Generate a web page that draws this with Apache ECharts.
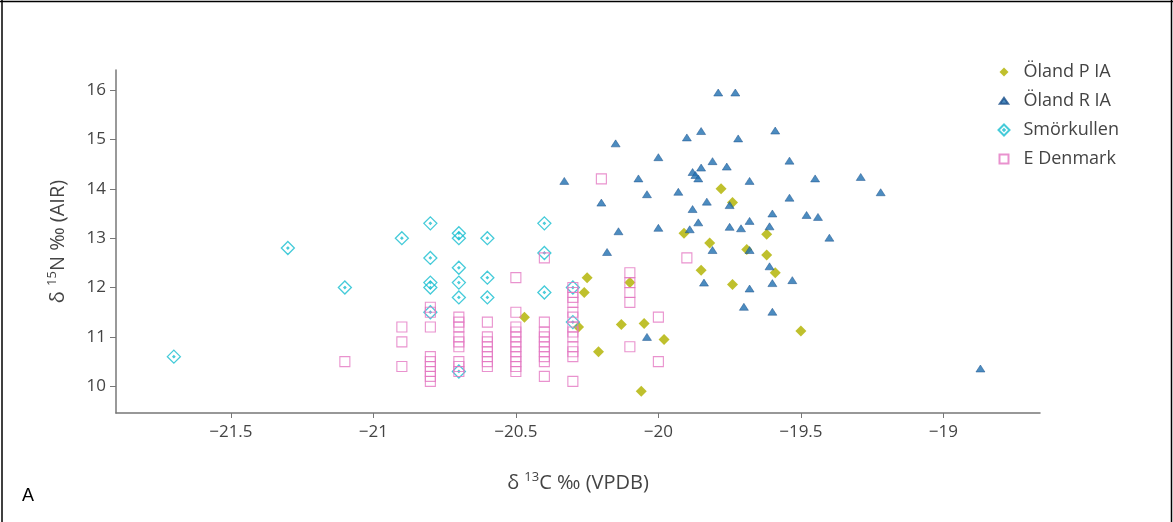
<!DOCTYPE html>
<html>
<head>
<meta charset="utf-8">
<script src="https://cdn.jsdelivr.net/npm/echarts@6/dist/echarts.min.js"></script>
<style>html,body{margin:0;padding:0;background:#fff;}#c{width:1173px;height:522px;}</style>
</head>
<body>
<div id="c"></div>
<script>
const seriesNames = ['Öland P IA', 'Öland R IA', 'Smörkullen', 'E Denmark'];
const xTicks = [-21.5, -21, -20.5, -20, -19.5, -19];
const yTicks = [10, 11, 12, 13, 14, 15, 16];

const olandP = [[-20.47,11.4],[-20.25,12.2],[-20.26,11.9],[-20.28,11.2],[-20.21,10.7],[-20.13,11.25],[-20.05,11.27],[-19.98,10.95],[-20.06,9.9],[-20.1,12.1],[-19.91,13.1],[-19.78,14.0],[-19.74,13.72],[-19.82,12.9],[-19.85,12.35],[-19.74,12.06],[-19.69,12.77],[-19.62,13.08],[-19.62,12.66],[-19.59,12.3],[-19.5,11.12]];

const olandR = [[-19.79,15.95],[-19.73,15.95],[-19.85,15.17],[-19.9,15.04],[-19.59,15.18],[-19.72,15.02],[-20.15,14.92],[-20.0,14.64],[-19.54,14.57],[-19.81,14.56],[-19.76,14.45],[-19.85,14.43],[-19.88,14.34],[-19.87,14.28],[-19.86,14.21],[-20.33,14.16],[-20.07,14.21],[-19.68,14.16],[-19.45,14.21],[-19.29,14.24],[-19.22,13.93],[-19.93,13.94],[-20.04,13.89],[-20.2,13.72],[-19.83,13.74],[-19.75,13.67],[-19.54,13.82],[-19.88,13.59],[-19.6,13.5],[-19.48,13.47],[-19.44,13.43],[-19.86,13.32],[-19.68,13.35],[-19.89,13.18],[-20.14,13.14],[-20.0,13.21],[-19.75,13.23],[-19.71,13.2],[-19.61,13.24],[-19.4,13.01],[-20.18,12.72],[-19.81,12.76],[-19.68,12.76],[-19.61,12.43],[-19.84,12.1],[-19.68,11.98],[-19.6,12.09],[-19.53,12.15],[-19.7,11.61],[-19.6,11.51],[-20.04,11.0],[-18.87,10.36]];

const smorkullen = [[-21.7,10.6],[-21.3,12.8],[-21.1,12.0],[-20.9,13.0],[-20.8,13.3],[-20.8,12.6],[-20.8,12.1],[-20.8,12.0],[-20.8,11.5],[-20.7,13.1],[-20.7,13.0],[-20.7,12.4],[-20.7,12.1],[-20.7,11.8],[-20.7,10.3],[-20.6,13.0],[-20.6,12.2],[-20.6,11.8],[-20.4,13.3],[-20.4,12.7],[-20.4,11.9],[-20.3,12.0],[-20.3,11.3]];

const eDenmark = [[-21.1,10.5],
[-20.9,11.2],[-20.9,10.9],[-20.9,10.4],
[-20.8,11.6],[-20.8,11.5],[-20.8,11.2],[-20.8,10.6],[-20.8,10.5],[-20.8,10.4],[-20.8,10.3],[-20.8,10.2],[-20.8,10.1],
[-20.7,11.4],[-20.7,11.3],[-20.7,11.2],[-20.7,11.0],[-20.7,10.9],[-20.7,10.8],[-20.7,10.5],[-20.7,10.4],[-20.7,10.3],
[-20.6,11.3],[-20.6,11.0],[-20.6,10.9],[-20.6,10.8],[-20.6,10.7],[-20.6,10.6],[-20.6,10.5],[-20.6,10.4],
[-20.5,12.2],[-20.5,11.5],[-20.5,11.2],[-20.5,11.1],[-20.5,11.0],[-20.5,10.9],[-20.5,10.8],[-20.5,10.7],[-20.5,10.6],[-20.5,10.5],[-20.5,10.4],[-20.5,10.3],
[-20.4,12.6],[-20.4,11.3],[-20.4,11.1],[-20.4,11.0],[-20.4,10.9],[-20.4,10.8],[-20.4,10.7],[-20.4,10.6],[-20.4,10.5],[-20.4,10.2],
[-20.3,12.0],[-20.3,11.9],[-20.3,11.8],[-20.3,11.7],[-20.3,11.5],[-20.3,11.4],[-20.3,11.2],[-20.3,11.1],[-20.3,11.0],[-20.3,10.8],[-20.3,10.7],[-20.3,10.6],[-20.3,10.1],
[-20.2,14.2],[-20.1,12.3],[-20.1,12.1],[-20.1,11.9],[-20.1,11.7],[-20.1,10.8],[-20.0,11.4],[-20.0,10.5],[-19.9,12.6]];

const FONT = 'Open Sans';
const TXT = '#444';
const minus = v => String(v).replace('-', '\u2212');

const titleRich = {
  n: {fontFamily: FONT, fontSize: 20, color: TXT, lineHeight: 24},
  s: {fontFamily: FONT, fontSize: 13, color: TXT, lineHeight: 15, verticalAlign: 'top'}
};

const diamondOpenDot = 'path://M0,-6L6,0L0,6L-6,0ZM0,-0.9L0.9,0L0,0.9L-0.9,0Z';

const chart = echarts.init(document.getElementById('c'), null, {renderer: 'canvas'});
chart.setOption({
  animation: false,
  backgroundColor: '#fff',
  textStyle: {fontFamily: FONT},
  grid: {left: 116, right: 133, top: 70, bottom: 109, containLabel: false},
  legend: {
    orient: 'vertical', left: 997.5, top: 63, padding: 0,
    itemWidth: 11, itemHeight: 11, itemGap: 11,
    textStyle: {fontFamily: FONT, fontSize: 18, color: TXT, padding: [0, 0, 0, 9]},
    data: [
      {name: seriesNames[0], icon: 'path://M-5.5,-5.5M5.5,5.5M0,-4.5L4.5,0L0,4.5L-4.5,0Z'},
      {name: seriesNames[1], icon: 'path://M-5.5,-5.5M5.5,5.5M0,-3.2L4.2,2.8L-4.2,2.8Z'},
      {name: seriesNames[2], icon: diamondOpenDot},
      {name: seriesNames[3], icon: 'path://M-5.5,-5.5M5.5,5.5M-4.5,-4.5L4.5,-4.5L4.5,4.5L-4.5,4.5Z'}
    ]
  },
  xAxis: {
    type: 'value', min: -21.903, max: -18.661,
    name: '{n|δ }{s|13}{n|C ‰ (VPDB)}', nameLocation: 'middle', nameGap: 58,
    nameTextStyle: {rich: titleRich},
    splitLine: {show: false},
    axisLine: {show: true, onZero: false, lineStyle: {color: '#777', width: 1.5}},
    axisTick: {show: true, length: 5, customValues: xTicks, lineStyle: {color: '#777'}},
    axisLabel: {customValues: xTicks, formatter: minus, fontFamily: FONT, fontSize: 17, color: TXT, margin: 11}
  },
  yAxis: {
    type: 'value', min: 9.459, max: 16.406,
    name: '{n|δ }{s|15}{n|N ‰ (AIR)}', nameLocation: 'middle', nameGap: 46,
    nameTextStyle: {rich: titleRich},
    splitLine: {show: false},
    axisLine: {show: true, onZero: false, lineStyle: {color: '#777', width: 1.5}},
    axisTick: {show: true, length: 6, customValues: yTicks, lineStyle: {color: '#777'}},
    axisLabel: {customValues: yTicks, formatter: minus, fontFamily: FONT, fontSize: 17, color: TXT, margin: 10}
  },
  series: [
    {name: seriesNames[0], type: 'scatter', data: olandP, symbol: 'diamond', symbolSize: 11,
     itemStyle: {color: '#bcbd22', opacity: 0.95}},
    {name: seriesNames[1], type: 'scatter', data: olandR, symbol: 'triangle', symbolSize: [9, 7],
     itemStyle: {color: '#1f6fb0', borderColor: '#1a4f8a', borderWidth: 0.6}},
    {name: seriesNames[2], type: 'scatter', data: smorkullen,
     symbol: diamondOpenDot, symbolSize: 13,
     itemStyle: {color: 'rgba(0,0,0,0)', borderColor: '#17becf', borderWidth: 1.3}},
    {name: seriesNames[3], type: 'scatter', data: eDenmark, symbol: 'rect', symbolSize: 10,
     itemStyle: {color: 'rgba(0,0,0,0)', borderColor: '#e377c2', borderWidth: 1.1}}
  ],
  graphic: [
    {type: 'line', shape: {x1: 0, y1: 1.5, x2: 1173, y2: 1.5}, style: {stroke: '#000', lineWidth: 1.5}},
    {type: 'line', shape: {x1: 2, y1: 0, x2: 2, y2: 522}, style: {stroke: '#000', lineWidth: 1.5}},
    {type: 'line', shape: {x1: 1171.5, y1: 0, x2: 1171.5, y2: 522}, style: {stroke: '#000', lineWidth: 1.5}},
    {type: 'text', left: 22, top: 487, style: {text: 'A', fontFamily: 'Liberation Sans', fontSize: 18, fill: '#000'}}
  ]
});
</script>
</body>
</html>
